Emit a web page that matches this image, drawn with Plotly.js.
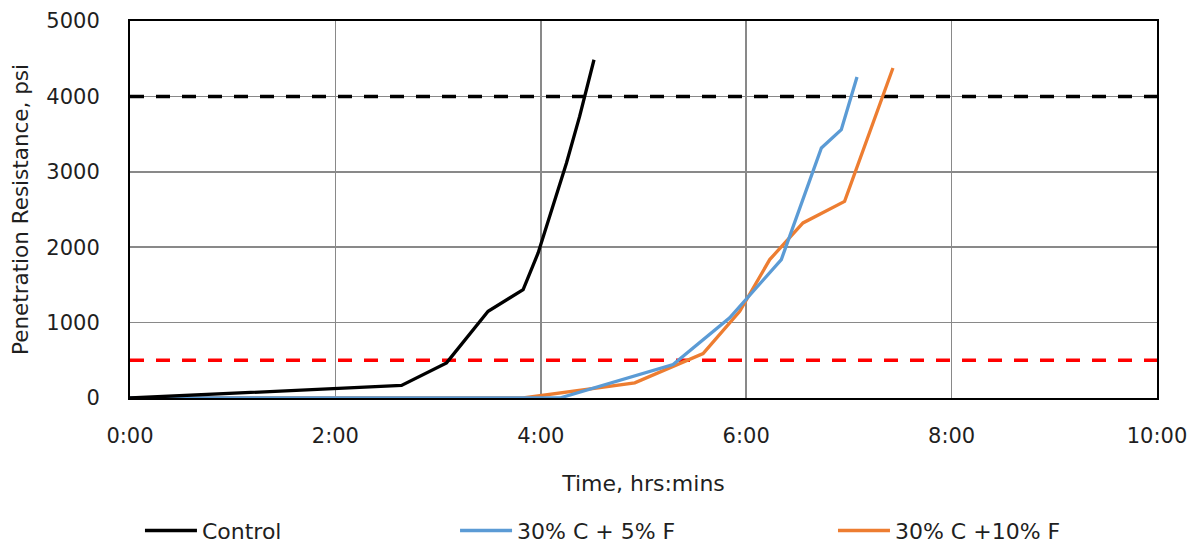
<!DOCTYPE html>
<html>
<head>
<meta charset="utf-8">
<script src="https://cdn.plot.ly/plotly-3.0.1.min.js"></script>
<style>
html,body{margin:0;padding:0;background:#fff;}
#chart{width:1199px;height:546px;}
</style>
</head>
<body>
<div id="chart"></div>
<script>
// Time in hours (decimal), penetration resistance in psi
const controlTime = [0, 2.644, 3.082, 3.487, 3.828, 3.974, 4.25, 4.378, 4.518];
const controlPsi  = [0, 166, 466, 1150, 1438, 1924, 3117, 3735, 4486];

const c5Time = [0, 4.185, 5.288, 5.839, 6.342, 6.732, 6.926, 7.079];
const c5Psi  = [0, 0, 444, 1063, 1836, 3316, 3559, 4257];

const c10Time = [0, 3.828, 4.915, 5.58, 5.937, 6.229, 6.553, 6.958, 7.429];
const c10Psi  = [0, 0, 201, 590, 1150, 1836, 2322, 2608, 4376];

const seriesNames = ["Control", "30% C + 5% F", "30% C +10% F"];

// Reference limits: initial set (500 psi) and final set (4000 psi)
const limitRange = [0, 10];
const initialSetPsi = 500;
const finalSetPsi = 4000;

const tickHours = [0, 2, 4, 6, 8, 10];
const tickLabels = ["0:00", "2:00", "4:00", "6:00", "8:00", "10:00"];
const yTicks = [0, 1000, 2000, 3000, 4000, 5000];

const FONT = "DejaVu Sans, sans-serif";
const TXT = "#1f1f1f";

const traces = [
  {x: limitRange, y: [finalSetPsi, finalSetPsi], mode: "lines", showlegend: false, hoverinfo: "skip",
   line: {color: "#000000", width: 3.5, dash: "14px,12px"}},
  {x: limitRange, y: [initialSetPsi, initialSetPsi], mode: "lines", showlegend: false, hoverinfo: "skip",
   line: {color: "#ff0000", width: 3.5, dash: "14px,12px"}},
  {x: c10Time, y: c10Psi, mode: "lines", name: seriesNames[2], legend: "legend3",
   line: {color: "#ED7D31", width: 3.3}},
  {x: c5Time, y: c5Psi, mode: "lines", name: seriesNames[1], legend: "legend2",
   line: {color: "#5B9BD5", width: 3.3}},
  {x: controlTime, y: controlPsi, mode: "lines", name: seriesNames[0], legend: "legend",
   line: {color: "#000000", width: 3.3}}
];

function legendAt(xpos) {
  return {
    orientation: "h", x: xpos, xanchor: "left", y: -0.352, yanchor: "middle",
    font: {family: FONT, size: 22, color: TXT}, itemwidth: 52,
    bgcolor: "rgba(0,0,0,0)", borderwidth: 0
  };
}

const layout = {
  width: 1199, height: 546,
  margin: {l: 130, r: 42, t: 21, b: 148, autoexpand: false},
  paper_bgcolor: "#ffffff", plot_bgcolor: "#ffffff",
  font: {family: FONT, size: 21, color: TXT},
  showlegend: true,
  legend: legendAt(0.0097),
  legend2: legendAt(0.3165),
  legend3: legendAt(0.6845),
  xaxis: {
    range: [0, 10], tickvals: tickHours, ticktext: tickLabels,
    showgrid: true, gridcolor: "#898989", gridwidth: 1.6,
    showline: true, mirror: true, linecolor: "#000000", linewidth: 2,
    zeroline: false, ticks: "", ticklabelstandoff: 18,
    tickfont: {family: FONT, size: 21, color: TXT},
    title: {text: "Time, hrs:mins", font: {family: FONT, size: 22, color: TXT}, standoff: 28}
  },
  yaxis: {
    range: [0, 5000], tickvals: yTicks,
    showgrid: true, gridcolor: "#898989", gridwidth: 1.6,
    showline: true, mirror: true, linecolor: "#000000", linewidth: 2,
    zeroline: false, ticks: "", ticklabelstandoff: 24,
    tickfont: {family: FONT, size: 21, color: TXT},
    title: {text: "Penetration Resistance, psi", font: {family: FONT, size: 21.5, color: TXT}, standoff: 12}
  }
};

Plotly.newPlot("chart", traces, layout, {displayModeBar: false, staticPlot: true});
</script>
</body>
</html>
